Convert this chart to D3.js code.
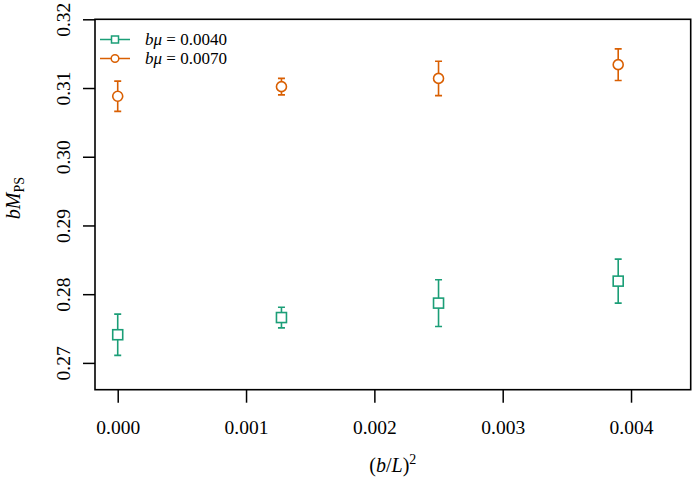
<!DOCTYPE html>
<html>
<meta charset="utf-8">
<style type="text/css">
  body { margin: 0; background: #fff; }
  text { font-family: "Liberation Serif", "DejaVu Serif", serif; fill: #000; }
</style>
<body>
<script src="https://d3js.org/d3.v7.min.js"></script>
<div id="chart"></div>
<script>
  const width = 694,
    height = 490;

  // x values: (b/L)^2 for L/b = inf, 28, 20, 16
  const xVals = [0.0, 0.001276, 0.0025, 0.0039];
  const mu40 = [0.2741, 0.2766, 0.2787, 0.2819];
  const mu40Err = [0.0030, 0.0015, 0.0034, 0.0032];
  const mu70 = [0.3088, 0.3102, 0.3114, 0.3134];
  const mu70Err = [0.0022, 0.0012, 0.0025, 0.0023];
  const xTicks = [0.000, 0.001, 0.002, 0.003, 0.004];
  const yTicks = [0.27, 0.28, 0.29, 0.30, 0.31, 0.32];
  const legendLabels = ["0.0040", "0.0070"];

  const green = "#1b9e77", orange = "#d95f02";

  const box = {left: 95, right: 690.7, top: 19.3, bottom: 389.7};

  const x = d3.scaleLinear().domain([-0.000177, 0.004465]).range([box.left, box.right]);
  const y = d3.scaleLinear().domain([0.2661, 0.3200]).range([box.bottom, box.top]);

  const svg = d3.select("#chart").append("svg")
    .attr("width", width)
    .attr("height", height);

  // x axis
  const xAxis = svg.append("g")
    .attr("transform", `translate(0,${box.bottom})`)
    .call(d3.axisBottom(x).tickValues(xTicks).tickSize(13).tickPadding(17).tickFormat(d3.format(".3f")));
  xAxis.select(".domain").remove();
  xAxis.selectAll("line").attr("stroke", "#000").attr("stroke-width", 1.5);
  xAxis.selectAll("text").style("font-size", "19.5px").attr("font-family", null);

  // y axis
  const yAxis = svg.append("g")
    .attr("transform", `translate(${box.left},0)`)
    .call(d3.axisLeft(y).tickValues(yTicks).tickSize(12).tickFormat(d3.format(".2f")));
  yAxis.select(".domain").remove();
  yAxis.selectAll("line").attr("stroke", "#000").attr("stroke-width", 1.5);
  yAxis.selectAll("text")
    .attr("x", null)
    .attr("text-anchor", "middle")
    .attr("transform", "translate(-32,0) rotate(-90)")
    .attr("dy", "0.35em")
    .style("font-size", "19.5px");

  // frame
  svg.append("rect")
    .attr("x", box.left).attr("y", box.top)
    .attr("width", box.right - box.left).attr("height", box.bottom - box.top)
    .attr("fill", "none").attr("stroke", "#000").attr("stroke-width", 1.6);

  // axis titles
  const xt = svg.append("text")
    .attr("x", (box.left + box.right) / 2).attr("y", 472)
    .attr("text-anchor", "middle").style("font-size", "20px");
  xt.append("tspan").text("(");
  xt.append("tspan").style("font-style", "italic").text("b");
  xt.append("tspan").text("/");
  xt.append("tspan").style("font-style", "italic").text("L");
  xt.append("tspan").text(")");
  xt.append("tspan").attr("dy", -8).style("font-size", "14px").text("2");

  const yt = svg.append("text")
    .attr("transform", `translate(20,198) rotate(-90)`)
    .attr("text-anchor", "middle").style("font-size", "20px");
  yt.append("tspan").style("font-style", "italic").text("bM");
  yt.append("tspan").attr("dy", 4).style("font-size", "14px").text("PS");

  // series
  const series = [
    {vals: mu40, errs: mu40Err, color: green, shape: "square"},
    {vals: mu70, errs: mu70Err, color: orange, shape: "circle"}
  ];

  const cap = 3.5;
  series.forEach(s => {
    const g = svg.append("g").attr("stroke", s.color).attr("stroke-width", 1.6).attr("fill", "none");
    const pts = xVals.map((xv, i) => ({x: xv, y: s.vals[i], e: s.errs[i]}));
    g.selectAll(".err").data(pts).join("path")
      .attr("d", d => {
        const cx = x(d.x), lo = y(d.y - d.e), hi = y(d.y + d.e);
        return `M${cx},${lo}V${hi}M${cx - cap},${hi}H${cx + cap}M${cx - cap},${lo}H${cx + cap}`;
      });
    if (s.shape === "square") {
      g.selectAll(".mk").data(pts).join("rect")
        .attr("x", d => x(d.x) - 5).attr("y", d => y(d.y) - 5)
        .attr("width", 10).attr("height", 10).attr("fill", "#fff");
    } else {
      g.selectAll(".mk").data(pts).join("circle")
        .attr("cx", d => x(d.x)).attr("cy", d => y(d.y)).attr("r", 5).attr("fill", "#fff");
    }
  });

  // legend
  const leg = svg.append("g");
  series.forEach((s, i) => {
    const ly = 39.5 + i * 19;
    const lg = leg.append("g").attr("stroke", s.color).attr("stroke-width", 1.5).attr("fill", "#fff");
    lg.append("line").attr("x1", 100).attr("x2", 130).attr("y1", ly).attr("y2", ly);
    if (s.shape === "square") {
      lg.append("rect").attr("x", 111.5).attr("y", ly - 3.5).attr("width", 7).attr("height", 7);
    } else {
      lg.append("circle").attr("cx", 115).attr("cy", ly).attr("r", 3.8);
    }
    const t = leg.append("text").attr("x", 145).attr("y", ly).attr("dy", "0.35em").style("font-size", "17px");
    t.append("tspan").style("font-style", "italic").text("bμ");
    t.append("tspan").text(" = " + legendLabels[i]);
  });
</script>
</body>
</html>
